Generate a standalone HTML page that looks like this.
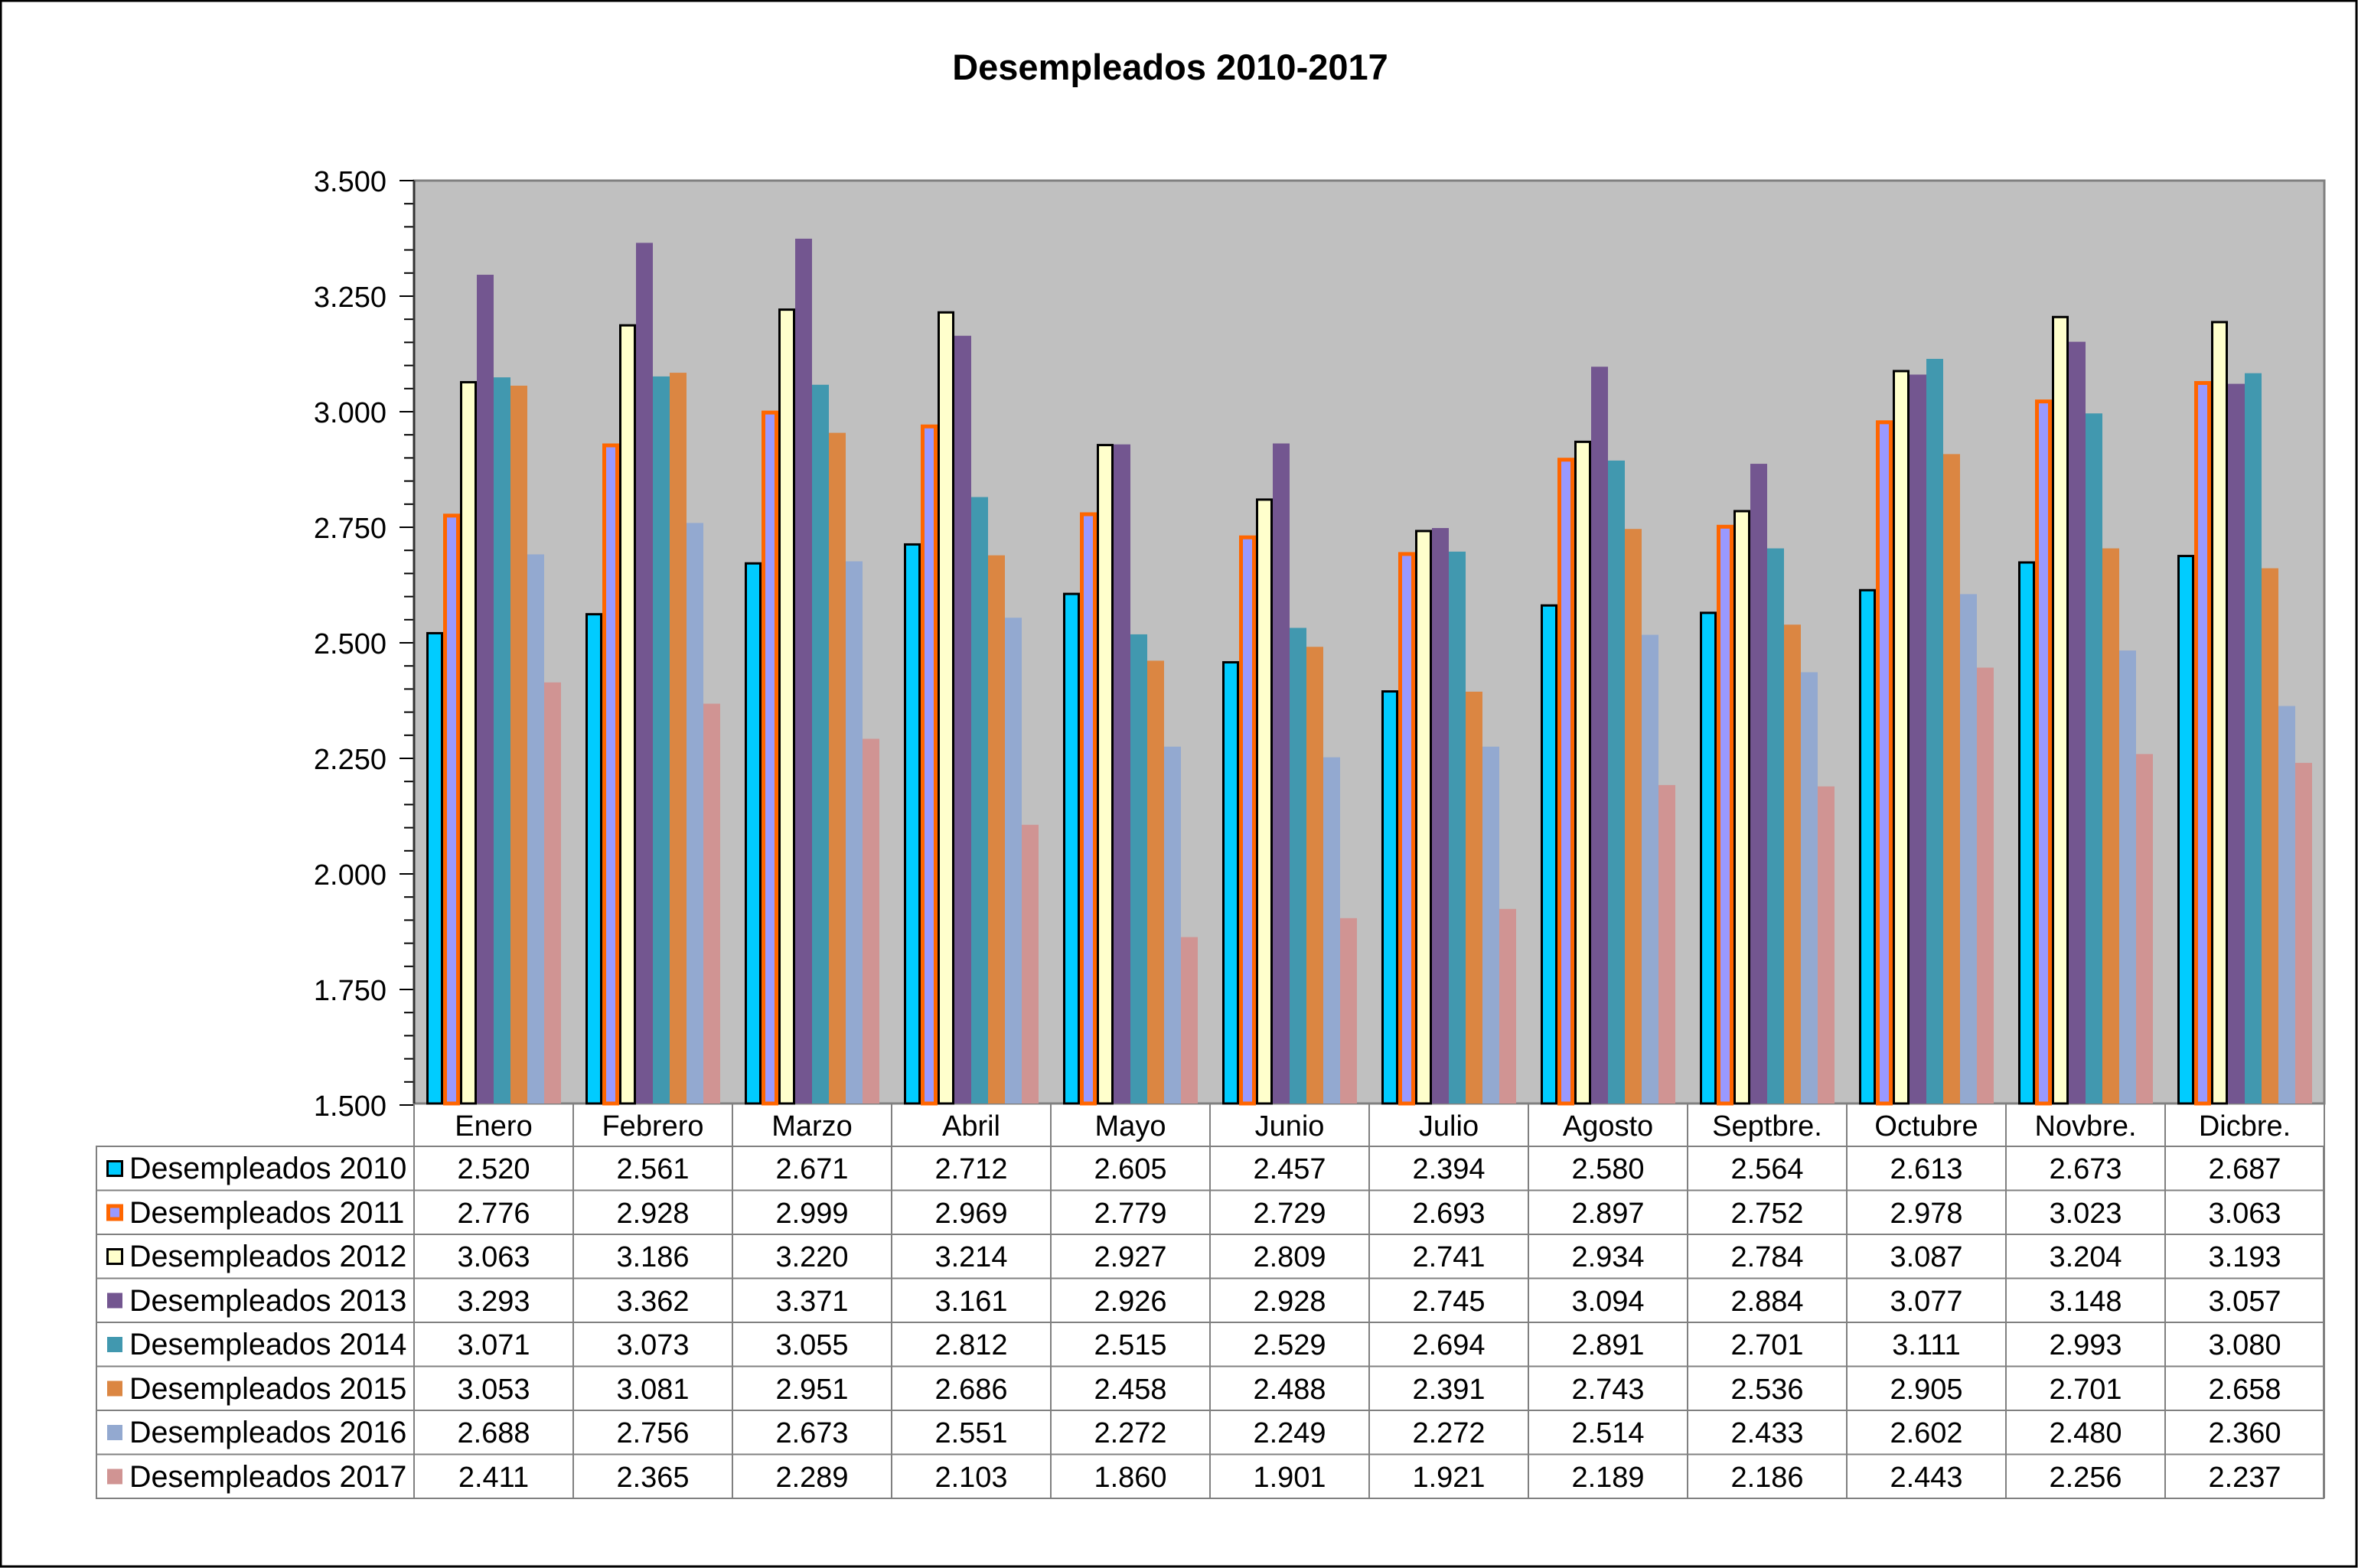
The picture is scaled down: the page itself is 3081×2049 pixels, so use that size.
<!DOCTYPE html>
<html><head><meta charset="utf-8"><style>
html,body{margin:0;padding:0;background:#fff;}
svg{display:block;font-family:"Liberation Sans",Arial,sans-serif;}
</style></head><body>
<svg id="s" width="3081" height="2049" viewBox="0 0 3081 2049" xmlns="http://www.w3.org/2000/svg">
<rect x="1" y="1" width="3078" height="2046" fill="#fff" stroke="#000" stroke-width="3"/>
<text x="1529" y="104" font-size="47" font-weight="bold" text-anchor="middle">Desempleados 2010-2017</text>
<rect x="541" y="236" width="2496" height="1206" fill="#c0c0c0" stroke="#808080" stroke-width="3"/>
<g id="bars"></g>
<g id="ticks" stroke="#000" stroke-width="2"></g>
<line x1="541" y1="236" x2="541" y2="1442" stroke="#333" stroke-width="3"/>
<g font-size="38" text-anchor="end">
<text x="505" y="250">3.500</text>
<text x="505" y="401">3.250</text>
<text x="505" y="552">3.000</text>
<text x="505" y="703">2.750</text>
<text x="505" y="854">2.500</text>
<text x="505" y="1005">2.250</text>
<text x="505" y="1156">2.000</text>
<text x="505" y="1307">1.750</text>
<text x="505" y="1458">1.500</text>
</g>
<g id="grid" stroke="#808080" stroke-width="2" fill="none"></g>
<g font-size="38" text-anchor="middle">
<text x="645" y="1484">Enero</text><text x="853" y="1484">Febrero</text><text x="1061" y="1484">Marzo</text><text x="1269" y="1484">Abril</text><text x="1477" y="1484">Mayo</text><text x="1685" y="1484">Junio</text><text x="1893" y="1484">Julio</text><text x="2101" y="1484">Agosto</text><text x="2309" y="1484">Septbre.</text><text x="2517" y="1484">Octubre</text><text x="2725" y="1484">Novbre.</text><text x="2933" y="1484">Dicbre.</text>
</g>
<g font-size="39.5">
<text x="169" y="1540">Desempleados 2010</text>
<text x="169" y="1598">Desempleados 2011</text>
<text x="169" y="1655">Desempleados 2012</text>
<text x="169" y="1713">Desempleados 2013</text>
<text x="169" y="1770">Desempleados 2014</text>
<text x="169" y="1828">Desempleados 2015</text>
<text x="169" y="1885">Desempleados 2016</text>
<text x="169" y="1943">Desempleados 2017</text>
</g>
<g id="keys"></g>
<g font-size="38" text-anchor="middle">
<text y="1540"><tspan x="645">2.520</tspan><tspan x="853">2.561</tspan><tspan x="1061">2.671</tspan><tspan x="1269">2.712</tspan><tspan x="1477">2.605</tspan><tspan x="1685">2.457</tspan><tspan x="1893">2.394</tspan><tspan x="2101">2.580</tspan><tspan x="2309">2.564</tspan><tspan x="2517">2.613</tspan><tspan x="2725">2.673</tspan><tspan x="2933">2.687</tspan></text>
<text y="1598"><tspan x="645">2.776</tspan><tspan x="853">2.928</tspan><tspan x="1061">2.999</tspan><tspan x="1269">2.969</tspan><tspan x="1477">2.779</tspan><tspan x="1685">2.729</tspan><tspan x="1893">2.693</tspan><tspan x="2101">2.897</tspan><tspan x="2309">2.752</tspan><tspan x="2517">2.978</tspan><tspan x="2725">3.023</tspan><tspan x="2933">3.063</tspan></text>
<text y="1655"><tspan x="645">3.063</tspan><tspan x="853">3.186</tspan><tspan x="1061">3.220</tspan><tspan x="1269">3.214</tspan><tspan x="1477">2.927</tspan><tspan x="1685">2.809</tspan><tspan x="1893">2.741</tspan><tspan x="2101">2.934</tspan><tspan x="2309">2.784</tspan><tspan x="2517">3.087</tspan><tspan x="2725">3.204</tspan><tspan x="2933">3.193</tspan></text>
<text y="1713"><tspan x="645">3.293</tspan><tspan x="853">3.362</tspan><tspan x="1061">3.371</tspan><tspan x="1269">3.161</tspan><tspan x="1477">2.926</tspan><tspan x="1685">2.928</tspan><tspan x="1893">2.745</tspan><tspan x="2101">3.094</tspan><tspan x="2309">2.884</tspan><tspan x="2517">3.077</tspan><tspan x="2725">3.148</tspan><tspan x="2933">3.057</tspan></text>
<text y="1770"><tspan x="645">3.071</tspan><tspan x="853">3.073</tspan><tspan x="1061">3.055</tspan><tspan x="1269">2.812</tspan><tspan x="1477">2.515</tspan><tspan x="1685">2.529</tspan><tspan x="1893">2.694</tspan><tspan x="2101">2.891</tspan><tspan x="2309">2.701</tspan><tspan x="2517">3.111</tspan><tspan x="2725">2.993</tspan><tspan x="2933">3.080</tspan></text>
<text y="1828"><tspan x="645">3.053</tspan><tspan x="853">3.081</tspan><tspan x="1061">2.951</tspan><tspan x="1269">2.686</tspan><tspan x="1477">2.458</tspan><tspan x="1685">2.488</tspan><tspan x="1893">2.391</tspan><tspan x="2101">2.743</tspan><tspan x="2309">2.536</tspan><tspan x="2517">2.905</tspan><tspan x="2725">2.701</tspan><tspan x="2933">2.658</tspan></text>
<text y="1885"><tspan x="645">2.688</tspan><tspan x="853">2.756</tspan><tspan x="1061">2.673</tspan><tspan x="1269">2.551</tspan><tspan x="1477">2.272</tspan><tspan x="1685">2.249</tspan><tspan x="1893">2.272</tspan><tspan x="2101">2.514</tspan><tspan x="2309">2.433</tspan><tspan x="2517">2.602</tspan><tspan x="2725">2.480</tspan><tspan x="2933">2.360</tspan></text>
<text y="1943"><tspan x="645">2.411</tspan><tspan x="853">2.365</tspan><tspan x="1061">2.289</tspan><tspan x="1269">2.103</tspan><tspan x="1477">1.860</tspan><tspan x="1685">1.901</tspan><tspan x="1893">1.921</tspan><tspan x="2101">2.189</tspan><tspan x="2309">2.186</tspan><tspan x="2517">2.443</tspan><tspan x="2725">2.256</tspan><tspan x="2933">2.237</tspan></text>
</g>
</svg>
<script>
var D=[[2520,2561,2671,2712,2605,2457,2394,2580,2564,2613,2673,2687],
[2776,2928,2999,2969,2779,2729,2693,2897,2752,2978,3023,3063],
[3063,3186,3220,3214,2927,2809,2741,2934,2784,3087,3204,3193],
[3293,3362,3371,3161,2926,2928,2745,3094,2884,3077,3148,3057],
[3071,3073,3055,2812,2515,2529,2694,2891,2701,3111,2993,3080],
[3053,3081,2951,2686,2458,2488,2391,2743,2536,2905,2701,2658],
[2688,2756,2673,2551,2272,2249,2272,2514,2433,2602,2480,2360],
[2411,2365,2289,2103,1860,1901,1921,2189,2186,2443,2256,2237]];
var F=['#00ccff','#9999ff','#ffffcc','#735690','#4198af','#db8642','#93a9d0','#d09493'];
var S=['#000','#ff6600','#000',null,null,null,null,null];
var SW=[3,5,3,0,0,0,0,0];
var NS='http://www.w3.org/2000/svg';
function el(p,t,a){var e=document.createElementNS(NS,t);for(var k in a)e.setAttribute(k,a[k]);p.appendChild(e);return e;}
var b=document.getElementById('bars');
for(var i=0;i<12;i++)for(var j=0;j<8;j++){
 var x=541+208*i+16+22*j,y=1442-(D[j][i]/1000-1.5)*604,h=1442-y;
 if(S[j]){var w=SW[j];el(b,'rect',{x:x+w/2,y:y+w/2,width:22-w,height:h-w/2,fill:F[j],stroke:S[j],'stroke-width':w});}
 else el(b,'rect',{x:x,y:y,width:22,height:h,fill:F[j]});
}
var t=document.getElementById('ticks');
for(var k=0;k<=40;k++){var yy=236+k*151/5;el(t,'line',{x1:(k%5==0)?522:528,y1:yy,x2:541,y2:yy});}
var g=document.getElementById('grid');
el(g,'rect',{x:126,y:1498,width:2910,height:460});
for(var r=1;r<8;r++)el(g,'line',{x1:126,y1:1498+r*57.5,x2:3036,y2:1498+r*57.5});
for(var c=0;c<=12;c++)el(g,'line',{x1:541+208*c,y1:1442,x2:541+208*c,y2:1958});
var kk=document.getElementById('keys');
for(var j=0;j<8;j++){var y0=1498+j*57.5+18;
 if(S[j]){var w=SW[j];el(kk,'rect',{x:139+w/2,y:y0+w/2,width:22-w,height:22-w,fill:F[j],stroke:S[j],'stroke-width':w});}
 else el(kk,'rect',{x:140,y:y0+1,width:20,height:20,fill:F[j]});}
</script>
</body></html>
